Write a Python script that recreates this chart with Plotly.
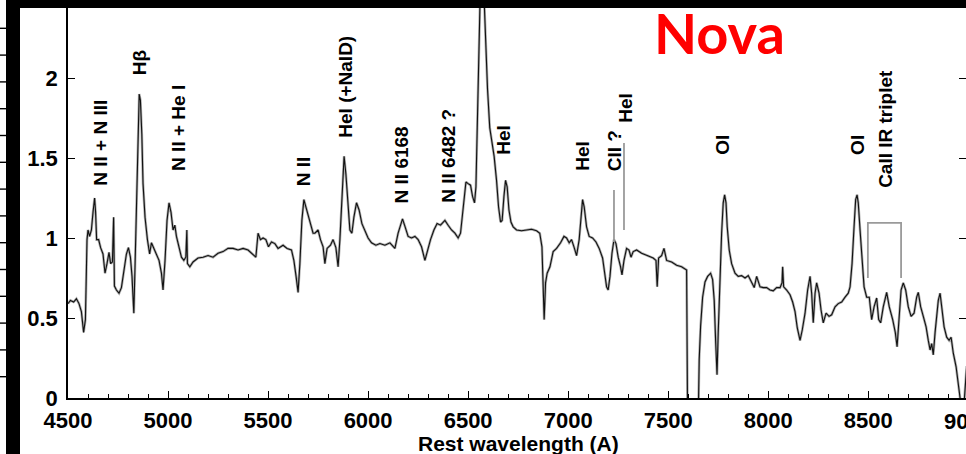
import plotly.graph_objects as go

# ---------------- data ----------------
wavelength = [
    4500, 4512, 4528, 4542, 4555, 4567, 4578, 4587, 4595, 4600, 4608, 4617, 4625, 4633, 4638, 4643,
    4653, 4663, 4675, 4685, 4695, 4705, 4713, 4722, 4728, 4732, 4742, 4755, 4767, 4778, 4792, 4802,
    4812, 4820, 4829, 4835, 4842, 4849, 4856, 4862, 4869, 4875, 4885, 4897, 4908, 4917, 4928, 4942,
    4955, 4967, 4975, 4985, 4995, 5005, 5015, 5025, 5034, 5042, 5054, 5067, 5079, 5089, 5094, 5097,
    5109, 5125, 5150, 5175, 5200, 5225, 5250, 5275, 5300, 5325, 5350, 5375, 5400, 5425, 5439, 5450,
    5462, 5475, 5489, 5502, 5517, 5534, 5550, 5575, 5595, 5617, 5629, 5640, 5650, 5659, 5669, 5679,
    5689, 5700, 5712, 5725, 5734, 5750, 5762, 5775, 5784, 5795, 5812, 5825, 5839, 5850, 5859, 5869,
    5880, 5889, 5897, 5909, 5919, 5929, 5942, 5955, 5969, 5984, 6000, 6017, 6039, 6059, 6084, 6109,
    6134, 6150, 6172, 6185, 6200, 6217, 6234, 6250, 6267, 6284, 6297, 6312, 6329, 6345, 6362, 6384,
    6400, 6417, 6434, 6450, 6462, 6475, 6489, 6500, 6512, 6522, 6532, 6539, 6544, 6549, 6554, 6559,
    6567, 6580, 6589, 6597, 6608, 6620, 6630, 6642, 6652, 6662, 6670, 6679, 6687, 6695, 6704, 6714,
    6725, 6742, 6767, 6792, 6817, 6842, 6858, 6869, 6875, 6880, 6887, 6895, 6909, 6925, 6942, 6962,
    6979, 6992, 7005, 7017, 7029, 7042, 7055, 7064, 7072, 7080, 7092, 7105, 7122, 7139, 7155, 7172,
    7184, 7192, 7200, 7209, 7219, 7229, 7239, 7250, 7262, 7269, 7279, 7292, 7304, 7314, 7325, 7342,
    7367, 7392, 7425, 7439, 7445, 7452, 7467, 7479, 7492, 7517, 7542, 7567, 7592, 7597, 7650, 7655,
    7662, 7672, 7684, 7697, 7712, 7722, 7730, 7737, 7744, 7750, 7759, 7767, 7775, 7782, 7789, 7795,
    7805, 7817, 7834, 7850, 7867, 7884, 7900, 7917, 7930, 7942, 7959, 7975, 7992, 8009, 8025, 8042,
    8059, 8069, 8072, 8077, 8092, 8109, 8122, 8134, 8145, 8159, 8170, 8184, 8197, 8209, 8217, 8225,
    8234, 8242, 8254, 8264, 8275, 8289, 8304, 8317, 8334, 8350, 8367, 8384, 8400, 8409, 8419, 8429,
    8437, 8444, 8450, 8459, 8469, 8479, 8492, 8505, 8517, 8529, 8542, 8552, 8562, 8575, 8592, 8605,
    8622, 8635, 8644, 8654, 8664, 8675, 8687, 8700, 8714, 8729, 8742, 8750, 8762, 8775, 8789, 8800,
    8809, 8817, 8825, 8834, 8842, 8850, 8859, 8869, 8879, 8892, 8904, 8914, 8925, 8939, 8950, 8959,
    8964, 8978, 8985, 8992,
]
flux = [
    0.59, 0.61, 0.60, 0.62, 0.59, 0.54, 0.41, 0.49, 0.99, 1.05, 1.01, 1.05, 1.16, 1.25, 1.16, 0.99,
    0.99, 0.94, 0.90, 0.78, 0.84, 0.91, 0.84, 0.85, 1.13, 0.70, 0.675, 0.655, 0.69, 0.78, 0.90, 0.94,
    0.88, 0.76, 0.53, 0.82, 1.24, 1.70, 1.90, 1.86, 1.65, 1.34, 1.13, 0.99, 0.90, 0.97, 0.94, 0.90,
    0.86, 0.78, 0.675, 0.86, 1.11, 1.22, 1.16, 1.05, 1.08, 1.01, 0.94, 0.88, 0.86, 0.88, 1.05, 0.84,
    0.82, 0.85, 0.875, 0.88, 0.89, 0.88, 0.905, 0.915, 0.935, 0.935, 0.925, 0.935, 0.925, 0.90, 0.88, 1.03,
    0.99, 1.00, 0.99, 0.945, 0.975, 0.965, 0.935, 0.955, 0.935, 0.925, 0.86, 0.76, 0.66, 0.84, 1.11, 1.24,
    1.195, 1.14, 1.10, 1.03, 1.03, 1.05, 0.99, 0.945, 0.84, 0.935, 0.955, 0.99, 0.94, 0.82, 0.99, 1.24,
    1.51, 1.40, 1.24, 1.05, 1.03, 1.13, 1.22, 1.175, 1.09, 1.04, 1.00, 0.97, 0.955, 0.965, 0.955, 0.97,
    0.935, 1.03, 1.12, 1.07, 1.01, 1.00, 1.01, 0.99, 0.945, 0.86, 0.925, 0.99, 1.05, 1.09, 1.08, 1.11,
    1.08, 1.05, 1.03, 1.00, 1.03, 1.195, 1.35, 1.34, 1.33, 1.26, 1.22, 1.32, 1.59, 1.86, 2.18, 2.49,
    2.90, 2.49, 2.18, 1.93, 1.69, 1.59, 1.51, 1.36, 1.195, 1.10, 1.11, 1.26, 1.36, 1.32, 1.175, 1.10,
    1.07, 1.05, 1.045, 1.05, 1.055, 1.045, 1.03, 0.945, 0.695, 0.49, 0.72, 0.78, 0.82, 0.915, 0.935, 0.97,
    1.01, 1.00, 0.97, 0.99, 0.945, 0.89, 0.99, 1.13, 1.24, 1.195, 1.07, 1.01, 1.00, 0.975, 0.935, 0.875,
    0.76, 0.695, 0.675, 0.76, 0.905, 0.99, 0.965, 0.88, 0.82, 0.77, 0.86, 0.935, 0.925, 0.88, 0.915, 0.925,
    0.905, 0.89, 0.875, 0.86, 0.695, 0.875, 0.89, 0.935, 0.86, 0.85, 0.83, 0.82, 0.80, -0.15, -0.15, 0.24,
    0.45, 0.63, 0.725, 0.76, 0.78, 0.74, 0.61, 0.36, 0.145, 0.41, 0.78, 1.03, 1.22, 1.27, 1.22, 1.07,
    0.925, 0.84, 0.78, 0.76, 0.765, 0.75, 0.765, 0.72, 0.69, 0.76, 0.695, 0.69, 0.69, 0.675, 0.67, 0.69,
    0.69, 0.72, 0.82, 0.695, 0.675, 0.645, 0.60, 0.54, 0.44, 0.36, 0.425, 0.53, 0.675, 0.76, 0.655, 0.47,
    0.655, 0.72, 0.655, 0.55, 0.47, 0.53, 0.51, 0.52, 0.57, 0.59, 0.60, 0.63, 0.655, 0.695, 0.84, 1.07,
    1.24, 1.27, 1.22, 1.05, 0.84, 0.695, 0.63, 0.63, 0.49, 0.57, 0.625, 0.49, 0.47, 0.57, 0.66, 0.57,
    0.49, 0.41, 0.32, 0.51, 0.675, 0.72, 0.675, 0.57, 0.51, 0.53, 0.63, 0.66, 0.57, 0.51, 0.445, 0.36,
    0.30, 0.34, 0.27, 0.41, 0.53, 0.61, 0.655, 0.55, 0.445, 0.38, 0.36, 0.38, 0.28, 0.195, 0.09, 0.0,
    -0.05, -0.05, 0.10, 0.20,
]

line_labels = ["N II + N III", "H\u03b2", "N II + He I", "N II", "HeI (+NaID)", "N II 6168",
               "N II 6482 ?", "HeI", "HeI", "CII ?", "HeI", "OI", "OI", "CaII IR triplet"]
label_wl = [4659, 4858, 5049, 5679, 5883, 6169, 6398, 6673, 7068, 7233, 7283, 7768, 8443, 8583]
label_base = [1.3125, 2.006, 1.406, 1.31, 1.6125, 1.206, 1.206, 1.506, 1.406, 1.406, 1.706, 1.506, 1.506, 1.30]

pointer_wl = [7229, 7279]
pointer_lo = [0.975, 1.05]
pointer_hi = [1.30, 1.594]

bracket_x = [8498, 8498, 8664, 8664]
bracket_y = [0.75, 1.094, 1.094, 0.75]

x_range = [4500, 8988.5]
y_range = [0, 2.4875]
y_ticks = [0, 0.5, 1, 1.5, 2]
y_ticktext = ["0", "0.5", "1", "1.5", "2"]

# ---------------- figure ----------------
fig = go.Figure()
fig.add_trace(go.Scatter(x=wavelength, y=flux, mode="lines",
                         line=dict(color="#b0b0b0", width=2.6), hoverinfo="skip", showlegend=False))
fig.add_trace(go.Scatter(x=wavelength, y=flux, mode="lines",
                         line=dict(color="#111111", width=1.1), showlegend=False))
fig.add_trace(go.Scatter(x=bracket_x, y=bracket_y, mode="lines",
                         line=dict(color="#9a9a9a", width=1.8), hoverinfo="skip", showlegend=False))
for wl, lo, hi in zip(pointer_wl, pointer_lo, pointer_hi):
    fig.add_trace(go.Scatter(x=[wl, wl], y=[lo, hi], mode="lines",
                             line=dict(color="#9a9a9a", width=1.8), hoverinfo="skip", showlegend=False))
fig.add_trace(go.Scatter(x=[x_range[0]], y=[0], yaxis="y2", mode="markers",
                         marker=dict(opacity=0), hoverinfo="skip", showlegend=False))

tickfont = dict(family="Liberation Sans", size=22, color="black", weight="bold")

fig.update_layout(
    width=966, height=454,
    margin=dict(l=68, r=0, t=0, b=56),
    paper_bgcolor="white", plot_bgcolor="white",
    xaxis=dict(range=x_range, tickmode="linear", tick0=4500, dtick=500,
               ticks="inside", ticklen=7, tickwidth=1.3, tickcolor="black",
               showline=True, linecolor="black", linewidth=1.5,
               showgrid=False, zeroline=False, tickfont=tickfont, ticklabelstandoff=2,
               minor=dict(tick0=4500, dtick=100, ticks="inside", ticklen=4,
                          tickwidth=1.1, tickcolor="black", showgrid=False)),
    yaxis=dict(range=y_range, tickvals=y_ticks, ticktext=y_ticktext,
               ticks="inside", ticklen=7, tickwidth=1.3, tickcolor="black",
               showline=True, linecolor="black", linewidth=1.5, ticklabelstandoff=4,
               showgrid=False, zeroline=False, tickfont=tickfont),
    yaxis2=dict(overlaying="y", side="right", range=y_range, tickvals=y_ticks[1:],
                ticks="inside", ticklen=7, tickwidth=1.3, tickcolor="black",
                showticklabels=False, showline=False, showgrid=False, zeroline=False),
)

# line identification labels
for txt, wl, yb in zip(line_labels, label_wl, label_base):
    fig.add_annotation(x=wl, y=yb, xref="x", yref="y", text=txt, textangle=-90,
                       showarrow=False, xanchor="center", yanchor="bottom",
                       font=dict(family="Liberation Sans", size=19, color="black", weight="bold"))

# partially visible 9000 tick label
fig.add_annotation(x=(968.3 - 68) / 898, y=(398 - 421.5) / 398, xref="paper", yref="paper", text="9000",
                   showarrow=False, xanchor="center", yanchor="middle", font=tickfont)

# axis title
fig.add_annotation(x=0.502, y=(398 - 443) / 398, xref="paper", yref="paper",
                   text="Rest wavelength (A)", showarrow=False, xanchor="center", yanchor="middle",
                   font=dict(family="Liberation Sans", size=21, color="black", weight="bold"))

# "Nova" title
fig.add_annotation(x=(719 - 68) / 898, y=(398 - 33) / 398, xref="paper", yref="paper",
                   text="Nova", showarrow=False, xanchor="center", yanchor="middle",
                   font=dict(family="Lato", size=56, color="#ff0000", weight="bold"))

# black frame bands
def px_x(p):
    return (p - 68) / 898

def px_y(p):
    return (398 - p) / 398

fig.add_shape(type="rect", xref="paper", yref="paper", x0=px_x(6), x1=px_x(970),
              y0=px_y(8), y1=px_y(-4), fillcolor="black", line_width=0, layer="above")
fig.add_shape(type="rect", xref="paper", yref="paper", x0=px_x(6), x1=px_x(20),
              y0=px_y(460), y1=px_y(-4), fillcolor="black", line_width=0, layer="above")

edge_marks = [28.3 + 26.8 * k for k in range(14)]
for k, ym in enumerate(edge_marks):
    fig.add_shape(type="line", xref="paper", yref="paper", x0=px_x(0), x1=px_x(6),
                  y0=px_y(ym), y1=px_y(ym), line=dict(color="black", width=1.4), layer="above")

fig.write_html("out.html")
